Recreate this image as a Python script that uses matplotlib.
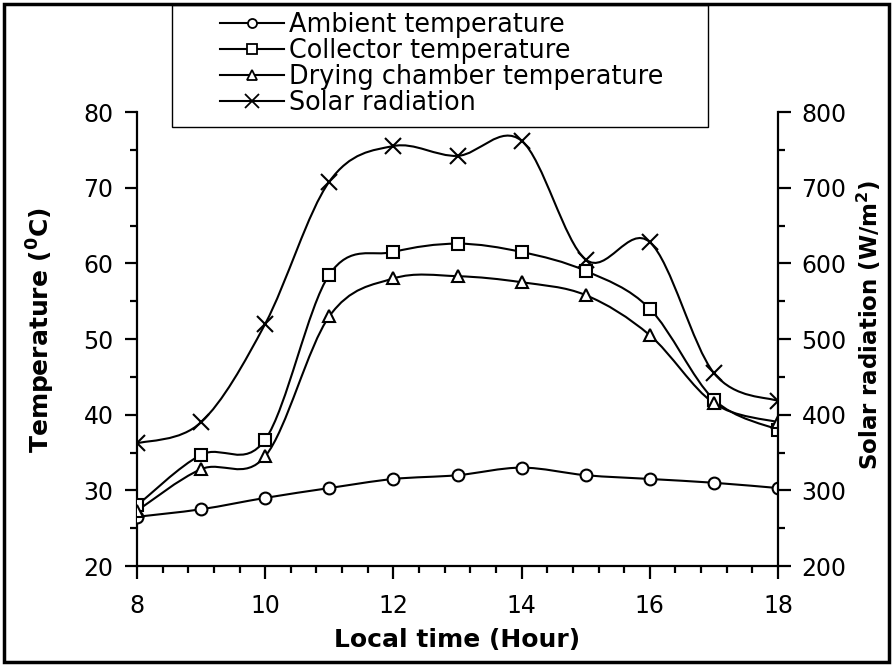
import matplotlib
matplotlib.use("Agg")
import matplotlib.pyplot as plt
from matplotlib.path import Path
from matplotlib.patches import PathPatch, Rectangle
from matplotlib.lines import Line2D
from matplotlib.ticker import MultipleLocator

plt.rcParams['font.family'] = ['DejaVu Sans']
plt.rcParams['mathtext.fontset'] = 'dejavusans'

hours = [8, 9, 10, 11, 12, 13, 14, 15, 16, 17, 18]
ambient = [26.5, 27.5, 29.0, 30.3, 31.5, 32.0, 33.0, 32.0, 31.5, 31.0, 30.3]
collector = [28.0, 34.7, 36.7, 58.5, 61.5, 62.6, 61.5, 59.0, 54.0, 42.0, 38.0]
chamber = [27.3, 32.8, 34.5, 53.0, 58.0, 58.3, 57.5, 55.8, 50.5, 41.5, 39.0]
radiation = [362, 390, 520, 708, 755, 742, 762, 605, 628, 455, 418]

legend_labels = ["Ambient temperature", "Collector temperature",
                 "Drying chamber temperature", "Solar radiation"]


def smooth_path(xs, ys):
    # catmull-rom style smoothing, like the spreadsheet "smoothed line"
    n = len(xs)
    verts = [(xs[0], ys[0])]
    codes = [Path.MOVETO]
    for i in range(n - 1):
        i0 = max(i - 1, 0)
        i3 = min(i + 2, n - 1)
        c1 = (xs[i] + (xs[i + 1] - xs[i0]) / 6.0, ys[i] + (ys[i + 1] - ys[i0]) / 6.0)
        c2 = (xs[i + 1] - (xs[i3] - xs[i]) / 6.0, ys[i + 1] - (ys[i3] - ys[i]) / 6.0)
        verts += [c1, c2, (xs[i + 1], ys[i + 1])]
        codes += [Path.CURVE4, Path.CURVE4, Path.CURVE4]
    return Path(verts, codes)


W, H = 893, 666
fig = plt.figure(figsize=(W / 100, H / 100), dpi=100)
ax = fig.add_axes([137 / W, 1 - 566 / H, 641 / W, 454 / H])
ax2 = ax.twinx()

lw = 1.5
mk = dict(linestyle='none', mfc='white', mec='black', mew=1.5)

for ys, m, ms in [(ambient, 'o', 8.5), (collector, 's', 8), (chamber, '^', 9)]:
    ax.add_patch(PathPatch(smooth_path(hours, ys), fill=False, lw=lw, ec='black', zorder=2))
    ax.plot(hours, ys, marker=m, ms=ms, zorder=3, **mk)

ax2.add_patch(PathPatch(smooth_path(hours, radiation), fill=False, lw=lw, ec='black', zorder=2))
ax2.plot(hours, radiation, marker='x', ms=11, linestyle='none', mec='black', mew=1.5, zorder=3)

ax.set_xlim(8, 18)
ax.set_ylim(20, 80)
ax2.set_ylim(200, 800)
ax.xaxis.set_major_locator(MultipleLocator(2))
ax.xaxis.set_minor_locator(MultipleLocator(0.4))
ax.yaxis.set_major_locator(MultipleLocator(10))
ax.yaxis.set_minor_locator(MultipleLocator(5))
ax2.yaxis.set_major_locator(MultipleLocator(100))
ax2.yaxis.set_minor_locator(MultipleLocator(50))

for a in (ax, ax2):
    a.spines['top'].set_visible(False)
    for s in a.spines.values():
        s.set_linewidth(1.6)
    a.tick_params(which='major', direction='out', length=9, width=1.6, labelsize=17, pad=8)
    a.tick_params(which='minor', direction='out', length=5, width=1.6)
ax.tick_params(axis='x', which='major', pad=11)
ax.spines['right'].set_visible(False)
ax2.spines['left'].set_visible(False)
ax2.spines['bottom'].set_visible(False)

ax.set_xlabel("Local time (Hour)", fontsize=18, fontweight='bold')
ax.set_ylabel(r"Temperature ($\mathbf{^0}$C)", fontsize=18, fontweight='bold')
ax2.set_ylabel(r"Solar radiation (W/m$\mathbf{^2}$)", fontsize=16.5, fontweight='bold')
ax.xaxis.set_label_coords(0.5, -0.137)
ax.yaxis.set_label_coords(-0.125, 0.52)
ax2.yaxis.set_label_coords(1.12, 0.53)

handles = [
    Line2D([], [], color='black', lw=lw, marker='o', ms=6.5, mfc='white', mec='black', mew=1.3),
    Line2D([], [], color='black', lw=lw, marker='s', ms=6.5, mfc='white', mec='black', mew=1.3),
    Line2D([], [], color='black', lw=lw, marker='^', ms=7.5, mfc='white', mec='black', mew=1.3),
    Line2D([], [], color='black', lw=lw, marker='x', ms=10, mec='black', mew=1.3),
]
fig.legend(handles, legend_labels, loc='upper left', bbox_to_anchor=(220 / W, 1 - 12 / H),
           frameon=False, fontsize=18.4, handlelength=2.5, handletextpad=0.2,
           labelspacing=0.0, borderpad=0, borderaxespad=0)

fig.add_artist(Rectangle((172 / W, 1 - 127 / H), 536 / W, 122 / H, transform=fig.transFigure,
                         fill=False, ec='black', lw=1.0))
fig.add_artist(Rectangle((4 / W, 4 / H), 885 / W, 658 / H, transform=fig.transFigure,
                         fill=False, ec='black', lw=2.5))

fig.savefig("out.png", dpi=100)
